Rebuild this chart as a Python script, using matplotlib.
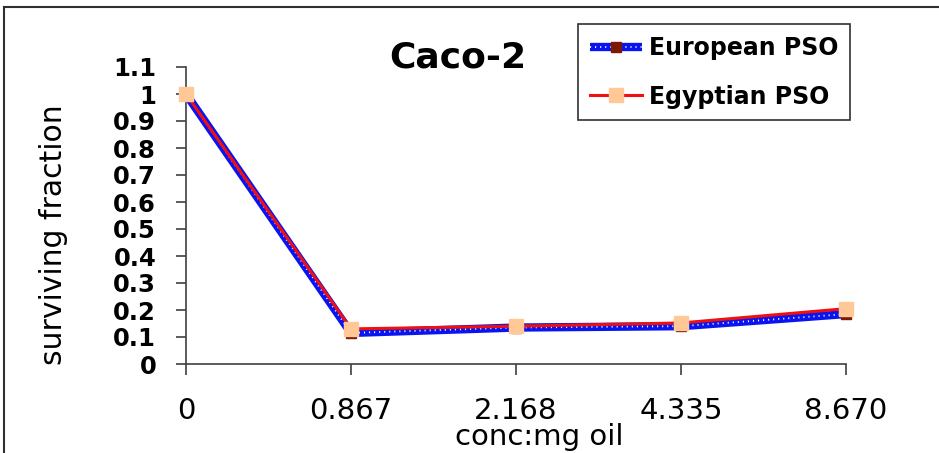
import matplotlib.pyplot as plt
from matplotlib.lines import Line2D
from matplotlib.legend_handler import HandlerTuple

# data
conc_labels = ["0", "0.867", "2.168", "4.335", "8.670"]
european_pso = [1.0, 0.115, 0.135, 0.14, 0.185]
egyptian_pso = [1.0, 0.13, 0.14, 0.152, 0.205]
y_ticks = [0, 0.1, 0.2, 0.3, 0.4, 0.5, 0.6, 0.7, 0.8, 0.9, 1.0, 1.1]
y_tick_labels = ["0", "0.1", "0.2", "0.3", "0.4", "0.5", "0.6", "0.7",
                 "0.8", "0.9", "1", "1.1"]

plt.rcParams["font.family"] = ["DejaVu Sans"]

BLUE = "#0a14f0"
BROWN = "#7a1a05"
RED = "#f01010"
PEACH = "#ffc896"
GREY = "#404040"

fig = plt.figure(figsize=(9.39, 4.53), dpi=100)
ax = fig.add_axes([186 / 939, 1 - 364 / 453, 660 / 939, 297 / 453])

x = list(range(len(conc_labels)))

# European PSO: thick blue line with white dots, dark red squares
ax.plot(x, european_pso, color=BLUE, lw=6, solid_capstyle="butt",
        zorder=2, clip_on=False)
ax.plot(x, european_pso, color="white", lw=1.3, linestyle=(0, (0.6, 2.2)),
        zorder=3, clip_on=False)
ax.plot(x, european_pso, linestyle="none", marker="s", markersize=7,
        color=BROWN, zorder=4, clip_on=False)

# Egyptian PSO: red line, peach squares
ax.plot(x, egyptian_pso, color=RED, lw=2.2, zorder=5, clip_on=False)
ax.plot(x, egyptian_pso, linestyle="none", marker="s", markersize=10,
        color=PEACH, zorder=6, clip_on=False)

ax.set_xlim(0, 4)
ax.set_ylim(0, 1.1)
ax.set_xticks(x)
ax.set_xticklabels(conc_labels, fontsize=21)
ax.set_yticks(y_ticks)
ax.set_yticklabels(y_tick_labels, fontsize=17.5, fontweight="bold")

for side in ["top", "right"]:
    ax.spines[side].set_visible(False)
for side in ["left", "bottom"]:
    ax.spines[side].set_color(GREY)
    ax.spines[side].set_linewidth(1.2)

ax.tick_params(axis="y", direction="out", length=7.5, width=1.2,
               color=GREY, pad=14)
ax.tick_params(axis="x", direction="out", length=8, width=1.2,
               color=GREY, pad=16)

ax.set_xlabel("conc:mg oil", fontsize=21)
ax.xaxis.set_label_coords((539 - 186) / 660, -(423 - 364) / 297)
ax.set_ylabel("surviving fraction", fontsize=21.5)
ax.yaxis.set_label_coords((68 - 186) / 660, (364 - 235) / 297)

fig.text(458 / 939, 1 - 67 / 453, "Caco-2", fontsize=26, fontweight="bold",
         ha="center", va="baseline")

# legend handles mirror the plotted styles (overlaid in one slot)
eu_line = Line2D([], [], color=BLUE, lw=6, solid_capstyle="butt")
eu_dots = Line2D([], [], color="white", lw=1.3, linestyle=(0, (0.6, 2.2)))
eu_mark = Line2D([], [], linestyle="none", marker="s", markersize=7,
                 color=BROWN)
eg_line = Line2D([], [], color=RED, lw=2.2, marker="s", markersize=10,
                 markerfacecolor=PEACH, markeredgecolor=PEACH)
leg = fig.legend([(eu_line, eu_dots, eu_mark), eg_line],
                 ["European PSO", "Egyptian PSO"],
                 handler_map={tuple: HandlerTuple(ndivide=1)},
                 loc="upper left", bbox_to_anchor=(578 / 939, 1 - 24 / 453),
                 prop={"size": 17, "weight": "bold"}, frameon=True,
                 fancybox=False, edgecolor="#303030", handlelength=2.2,
                 handletextpad=0.3, labelspacing=1.05, borderpad=0.5,
                 borderaxespad=0, framealpha=1)
leg.get_frame().set_linewidth(1.2)

# outer border (top and left only)
fig.add_artist(Line2D([4 / 939, 1], [1 - 7 / 453, 1 - 7 / 453],
                      color="#303030", lw=1.5, transform=fig.transFigure))
fig.add_artist(Line2D([4 / 939, 4 / 939], [0, 1 - 7 / 453],
                      color="#303030", lw=1.5, transform=fig.transFigure))

fig.savefig("out.png", dpi=100)
